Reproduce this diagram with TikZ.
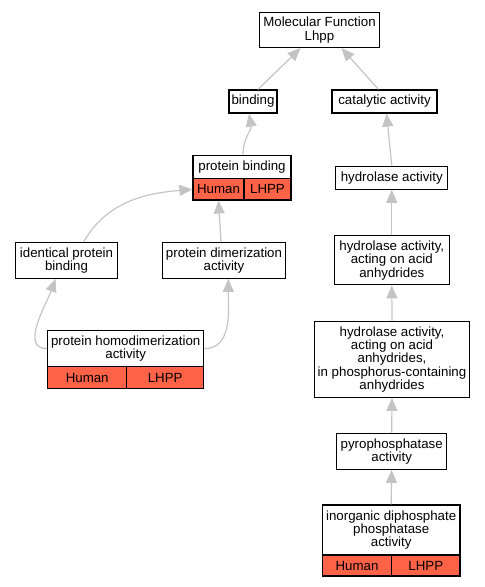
\documentclass[tikz,border=0pt]{standalone}
\usepackage{fontspec}
\setmainfont{Liberation Sans}
\usetikzlibrary{arrows.meta}
\definecolor{hitred}{HTML}{FF6347}
\definecolor{edgegray}{HTML}{C4C4C4}
\begin{document}
\begin{tikzpicture}[x=1pt,y=-1pt,
    term/.style ={draw, line width=1.2pt, fill=white, align=center, inner sep=0pt,
                  font=\fontsize{13.3}{13.3}\selectfont},
    hit/.style ={term, fill=hitred},
    isa/.style ={draw=edgegray, line width=1.2pt, -{Triangle[length=13pt,width=11pt]}}]
   \useasboundingbox (0,0) rectangle (485,587);

   \node[term, minimum width=120pt, minimum height=35pt] (mf)  at (319.5,30)  {Molecular Function\\Lhpp};
   \node[term, minimum width=48pt, minimum height=23pt] (bind)  at (253,101.5)  {binding};
   \node[term, minimum width=105pt, minimum height=23pt] (cat)  at (384.5,101.5)  {catalytic activity};

   \node[term, minimum width=98pt, minimum height=23.7pt] (pb)  at (242,167)  {protein binding};
   \node[hit, minimum width=51pt, minimum height=21.3pt] (pbHuman)  at (218.5,189.3)  {Human};
   \node[hit, minimum width=47pt, minimum height=21.3pt] (pbLHPP)  at (267.5,189.3)  {LHPP};

   \node[term, minimum width=101.6pt, minimum height=35.6pt] (idb)  at (66.5,260.5)  {identical protein\\binding};
   \node[term, minimum width=122.7pt, minimum height=35.6pt] (pda)  at (224,260.5)  {protein dimerization\\activity};

   \node[term, minimum width=156pt, minimum height=36pt] (phd)  at (125.7,348.7)  {protein homodimerization\\activity};
   \node[hit, minimum width=79pt, minimum height=21.6pt] (phdHuman)  at (87.2,377.5)  {Human};
   \node[hit, minimum width=77pt, minimum height=21.6pt] (phdLHPP)  at (165.2,377.5)  {LHPP};

   \node[term, minimum width=112pt, minimum height=23pt] (ha)  at (391.8,177.7)  {hydrolase activity};
   \node[term, minimum width=115pt, minimum height=49pt] (haa)  at (391.8,260.3)  {hydrolase activity,\\acting on acid\\anhydrides};
   \node[term, minimum width=154.6pt, minimum height=75.6pt] (hap)  at (392,359.5)  {hydrolase activity,\\acting on acid\\anhydrides,\\in phosphorus-containing\\anhydrides};
   \node[term, minimum width=110pt, minimum height=36pt] (pyro)  at (391.7,451.3)  {pyrophosphatase\\activity};

   \node[term, minimum width=137.7pt, minimum height=50pt] (idp)  at (391.2,530)  {inorganic diphosphate\\phosphatase\\activity};
   \node[hit, minimum width=69.4pt, minimum height=21pt] (idpHuman)  at (357,565.5)  {Human};
   \node[hit, minimum width=68.3pt, minimum height=21pt] (idpLHPP)  at (425.8,565.5)  {LHPP};

   \draw[isa] ([xshift=5pt]bind.north) to ([xshift=-19pt]mf.south);
   \draw[isa] ([xshift=-6pt]cat.north) to ([xshift=22pt]mf.south);
   \draw[isa] ([xshift=1pt]pb.north) to[out=90,in=-80] ([xshift=-4pt]bind.south);
   \draw[isa] ([xshift=17pt]idb.north) to[out=60,in=185] (pbHuman.west);
   \draw[isa] ([xshift=-3pt]pda.north) to (pbHuman.south);
   \draw[isa] (phd.west) to[out=180,in=-110] ([xshift=-11pt]idb.south);
   \draw[isa] (phd.east) to[out=0,in=-90] ([xshift=4.3pt]pda.south);
   \draw[isa] (ha.north) to ([xshift=2pt]cat.south);
   \draw[isa] (haa.north) to (ha.south);
   \draw[isa] (hap.north) to (haa.south);
   \draw[isa] (pyro.north) to (hap.south);
   \draw[isa] (idp.north) to (pyro.south);
\end{tikzpicture}
\end{document}
